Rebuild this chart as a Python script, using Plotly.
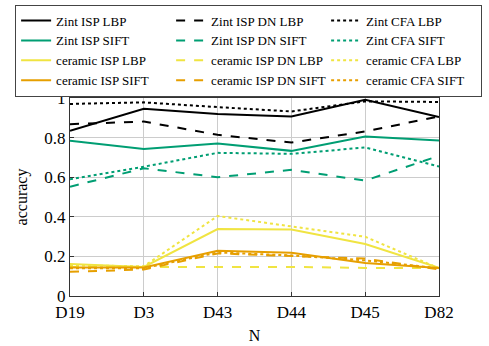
import plotly.graph_objects as go

categories = ["D19", "D3", "D43", "D44", "D45", "D82"]

zint_isp_lbp = [0.834, 0.946, 0.919, 0.907, 0.991, 0.904]
zint_isp_dn_lbp = [0.868, 0.881, 0.814, 0.775, 0.831, 0.907]
zint_cfa_lbp = [0.970, 0.978, 0.954, 0.932, 0.983, 0.980]
zint_isp_sift = [0.784, 0.743, 0.770, 0.733, 0.806, 0.785]
zint_isp_dn_sift = [0.552, 0.645, 0.600, 0.637, 0.583, 0.708]
zint_cfa_sift = [0.590, 0.653, 0.723, 0.718, 0.750, 0.654]
ceramic_isp_lbp = [0.161, 0.147, 0.338, 0.336, 0.263, 0.142]
ceramic_isp_dn_lbp = [0.146, 0.146, 0.147, 0.147, 0.142, 0.142]
ceramic_cfa_lbp = [0.155, 0.150, 0.404, 0.353, 0.299, 0.140]
ceramic_isp_sift = [0.144, 0.144, 0.228, 0.218, 0.167, 0.142]
ceramic_isp_dn_sift = [0.122, 0.134, 0.215, 0.201, 0.189, 0.134]
ceramic_cfa_sift = [0.140, 0.140, 0.220, 0.205, 0.180, 0.140]

BLACK = "#000000"
GREEN = "#009E73"
YELLOW = "#F0E442"
ORANGE = "#E69F00"

series = [
    ("Zint ISP LBP", zint_isp_lbp, BLACK, "solid"),
    ("Zint ISP DN LBP", zint_isp_dn_lbp, BLACK, "dash"),
    ("Zint CFA LBP", zint_cfa_lbp, BLACK, "dot"),
    ("Zint ISP SIFT", zint_isp_sift, GREEN, "solid"),
    ("Zint ISP DN SIFT", zint_isp_dn_sift, GREEN, "dash"),
    ("Zint CFA SIFT", zint_cfa_sift, GREEN, "dot"),
    ("ceramic ISP LBP", ceramic_isp_lbp, YELLOW, "solid"),
    ("ceramic ISP DN LBP", ceramic_isp_dn_lbp, YELLOW, "dash"),
    ("ceramic CFA LBP", ceramic_cfa_lbp, YELLOW, "dot"),
    ("ceramic ISP SIFT", ceramic_isp_sift, ORANGE, "solid"),
    ("ceramic ISP DN SIFT", ceramic_isp_dn_sift, ORANGE, "dash"),
    ("ceramic CFA SIFT", ceramic_cfa_sift, ORANGE, "dot"),
]

fig = go.Figure()
for name, vals, color, dash in series:
    fig.add_trace(go.Scatter(
        x=categories, y=vals, name=name, mode="lines",
        line=dict(color=color, dash=dash, width=2),
    ))

FONT = "Times New Roman"
PLOT_RIGHT = 369 / 419
fig.update_layout(
    width=489, height=346,
    margin=dict(l=70, r=0, t=98, b=50, autoexpand=False),
    paper_bgcolor="white", plot_bgcolor="white",
    font=dict(family=FONT, color="black", size=17),
    legend=dict(
        orientation="h",
        x=-0.131, xanchor="left",
        y=1.472, yanchor="top",
        entrywidth=110, entrywidthmode="pixels",
        itemwidth=30,
        tracegroupgap=0,
        font=dict(family=FONT, size=13, color="black"),
        bordercolor="#444", borderwidth=1,
        bgcolor="white",
        traceorder="normal",
    ),
    xaxis=dict(
        domain=[0, PLOT_RIGHT],
        title=dict(text="N", font=dict(size=16), standoff=9),
        type="category", range=[0, 5],
        showgrid=True, gridcolor="#cccccc", gridwidth=1,
        showline=True, linecolor="#333", linewidth=1.2, mirror=True,
        ticks="inside", ticklen=4, tickcolor="#333",
        tickfont=dict(size=17),
        zeroline=False,
    ),
    yaxis=dict(
        title=dict(text="accuracy", font=dict(size=16), standoff=12),
        range=[0, 1], tickvals=[0, 0.2, 0.4, 0.6, 0.8, 1],
        ticktext=["0", "0.2", "0.4", "0.6", "0.8", "1"],
        showgrid=True, gridcolor="#cccccc", gridwidth=1,
        showline=True, linecolor="#333", linewidth=1.2, mirror=True,
        ticks="inside", ticklen=4, tickcolor="#333",
        tickfont=dict(size=17),
        zeroline=False,
    ),
)

fig.write_html(
    "out.html",
    config={"displayModeBar": False},
    post_script="document.body.style.margin='0';document.body.style.padding='0';",
)
